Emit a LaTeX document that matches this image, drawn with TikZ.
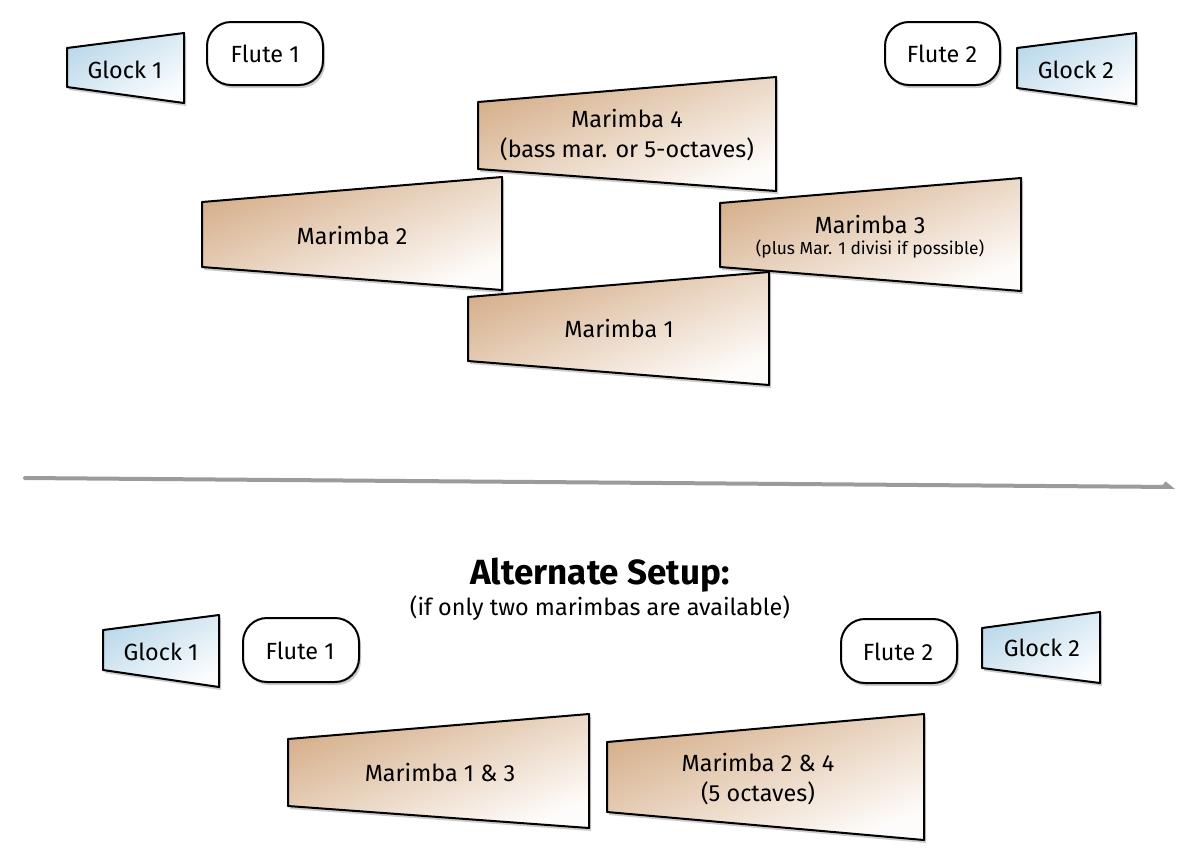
\documentclass[tikz,border=0pt]{standalone}
\usepackage{fontspec}
\setmainfont{Fira Sans}
\usetikzlibrary{shadows, arrows.meta}
\definecolor{martan}{RGB}{214, 176, 140}
\definecolor{marlight}{RGB}{254, 252, 250}
\definecolor{glockblue}{RGB}{188, 217, 234}
\definecolor{glocklight}{RGB}{250, 252, 254}
\definecolor{rulegray}{RGB}{155, 155, 155}

\begin{document}
\begin{tikzpicture}[x=0.5pt, y=-0.5pt, line join=round,
  font=\fontsize{11.7}{15}\selectfont,
  shadowed/.style={drop shadow={shadow xshift=1pt, shadow yshift=-1.5pt, opacity=0.4}},
  marimba/.style={shadowed, draw=black, line width=1pt, top color=martan, bottom color=marlight, shading angle=22},
  glock/.style={shadowed, draw=black, line width=1pt, top color=glockblue, bottom color=glocklight, shading angle=30},
  flute/.style={shadowed, draw=black, line width=1pt, fill=white, rounded corners=12pt}]

  \useasboundingbox (0, 0) rectangle (1200, 864);

  % main setup
  \draw[glock] (67, 48) -- (184, 33) -- (184, 103) -- (67, 87) -- cycle;
  \node (glock1) at (125, 70) {Glock 1};
  \draw[flute] (207, 22) rectangle (323, 85);
  \node (flute1) at (265, 54) {Flute 1};
  \draw[flute] (885, 22) rectangle (1000, 85);
  \node (flute2) at (942, 54) {Flute 2};
  \draw[glock] (1017, 48) -- (1136, 33) -- (1136, 104) -- (1017, 88) -- cycle;
  \node (glock2) at (1076, 70) {Glock 2};

  \draw[marimba] (478, 102) -- (776, 77) -- (776, 191) -- (478, 169) -- cycle;
  \node[align=center] (mar4) at (627, 135) {Marimba 4\\(bass mar. or 5-octaves)};
  \draw[marimba] (202, 202) -- (502, 177) -- (502, 290) -- (202, 267) -- cycle;
  \node (mar2) at (352, 236) {Marimba 2};
  \draw[marimba] (720, 203) -- (1021, 178) -- (1021, 291) -- (720, 267) -- cycle;
  \node (mar3) at (870, 225) {Marimba 3};
  \node[font=\fontsize{8.7}{10}\selectfont] (mar3b) at (870, 249) {(plus Mar. 1 divisi if possible)};
  \draw[marimba] (468, 297) -- (769, 272) -- (769, 385) -- (468, 361) -- cycle;
  \node (mar1) at (619, 329) {Marimba 1};

  % separator
  \coordinate (sepL) at (25, 478);
  \coordinate (sepR) at (1175, 487);
  \draw[rulegray, line width=2pt, line cap=round, -{Straight Barb[harpoon, length=2.5pt, width=4pt]}] (sepL) -- (sepR);

  % alternate setup
  \node[font=\fontsize{17.5}{20}\selectfont\bfseries] (alt) at (600, 575) {Alternate Setup:};
  \node (altnote) at (600, 608) {(if only two marimbas are available)};

  \draw[glock] (103, 630) -- (219, 615) -- (219, 687) -- (103, 670) -- cycle;
  \node (aglock1) at (161, 652) {Glock 1};
  \draw[flute] (243, 618) rectangle (359, 682);
  \node (aflute1) at (300, 651) {Flute 1};
  \draw[flute] (841, 619) rectangle (957, 683);
  \node (aflute2) at (898, 652) {Flute 2};
  \draw[glock] (982, 628) -- (1100, 612) -- (1100, 683) -- (982, 668) -- cycle;
  \node (aglock2) at (1042, 648) {Glock 2};

  \draw[marimba] (288, 739) -- (589, 714) -- (589, 828) -- (288, 806) -- cycle;
  \node (mar13) at (440, 772) {Marimba 1 \& 3};
  \draw[marimba] (607, 742) -- (924, 714) -- (924, 840) -- (607, 812) -- cycle;
  \node[align=center] (mar24) at (758, 779) {Marimba 2 \& 4\\(5 octaves)};

\end{tikzpicture}
\end{document}
